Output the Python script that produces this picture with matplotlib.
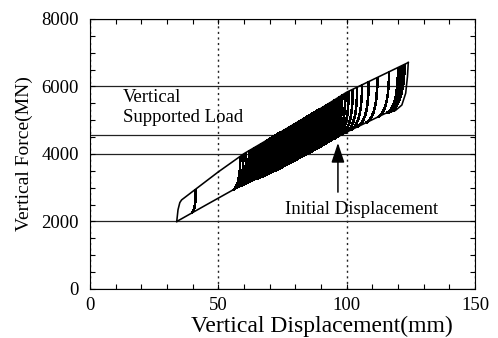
import numpy as np
import matplotlib
matplotlib.use("Agg")
import matplotlib.pyplot as plt
from matplotlib.path import Path
from matplotlib.patches import PathPatch
from matplotlib.ticker import MultipleLocator

plt.rcParams['font.family'] = ['Liberation Serif', 'DejaVu Serif']

# outer envelope of the hysteresis loop (mm, MN)
upper_x = [33.8, 34.3, 35.0, 35.7, 40.0, 50.0, 60.0, 75.0, 91.0, 100.0, 112.0, 124.0]
upper_y = [2000, 2350, 2560, 2640, 2890, 3470, 4010, 4680, 5400, 5830, 6270, 6710]
lower_x = [33.8, 45.0, 57.0, 74.0, 100.0, 115.0, 119.0, 121.5, 123.0, 123.7, 124.0]
lower_y = [2000, 2480, 2990, 3590, 4650, 5200, 5290, 5450, 5800, 6300, 6710]

# displacement where each inner reversal curve meets the upper branch
loop_left = [41.2]
loop_hatch = [58.6, 59.8, 60.9, 61.9, 62.9, 63.9, 64.8, 65.7, 66.6, 67.5, 68.3]
loop_dense = [68.9, 69.3, 69.7, 70.1, 70.5, 70.9, 71.3, 71.7, 72.1, 72.5,
              72.9, 73.3, 73.7, 74.1, 74.5, 74.9, 75.3, 75.7, 76.1, 76.5,
              76.9, 77.3, 77.7, 78.1, 78.5, 78.9, 79.3, 79.7, 80.1, 80.5,
              80.9, 81.3, 81.7, 82.1, 82.5, 82.9, 83.3, 83.7, 84.1, 84.5,
              84.9, 85.3, 85.7, 86.1, 86.5, 86.9, 87.3, 87.7, 88.1, 88.5,
              88.9, 89.3, 89.7, 90.1, 90.5, 90.9, 91.3, 91.8, 92.3, 92.9]
loop_right = [93.6, 94.5, 95.3, 96.2, 97.2, 98.3, 99.5, 100.8, 102.4,
              104.1, 106.0, 108.6, 112.0, 116.5, 120.0, 120.9, 121.7, 122.6]

supported_load = 4560
initial_disp = 96.6

fig = plt.figure(figsize=(4.98, 3.38), dpi=100)
ax = fig.add_axes([0.1807, 0.145, 0.7731, 0.7988])

ax.set_xlim(0, 150)
ax.set_ylim(0, 8000)
ax.xaxis.set_major_locator(MultipleLocator(50))
ax.xaxis.set_minor_locator(MultipleLocator(10))
ax.yaxis.set_major_locator(MultipleLocator(2000))
ax.yaxis.set_minor_locator(MultipleLocator(500))
ax.tick_params(which='both', direction='in', top=True, right=True,
               length=3.6, width=0.8, labelsize=13.5)
ax.tick_params(axis='x', pad=6)
ax.tick_params(axis='y', pad=8)
for s in ax.spines.values():
    s.set_linewidth(0.8)

ax.yaxis.grid(True, which='major', color='#222222', linewidth=0.9, linestyle='-')
ax.xaxis.grid(True, which='major', color='#222222', linewidth=1.0, linestyle=(0, (1.5, 2.5)))
ax.set_axisbelow(True)
ax.axhline(supported_load, color='#222222', linewidth=0.9, zorder=1)

lw = 1.15
ax.plot(upper_x, upper_y, color='black', linewidth=lw, zorder=3)
ax.plot(lower_x, lower_y, color='black', linewidth=lw, zorder=3)


def reversal(xt, dx, width):
    # curve leaves the lower branch tangentially and reaches the upper branch vertically
    xb = xt - dx
    yb = np.interp(xb, lower_x, lower_y)
    yc = np.interp(xt, lower_x, lower_y)
    yt = np.interp(xt, upper_x, upper_y)
    yc = min(yc, yt)
    p = Path([(xb, yb), (xt, yc), (xt, yt)], [Path.MOVETO, Path.CURVE3, Path.CURVE3])
    ax.add_patch(PathPatch(p, facecolor='none', edgecolor='black', linewidth=width,
                           antialiased=False, zorder=3))


for xt in loop_left:
    reversal(xt, 1.5, lw)
for xt in loop_hatch:
    reversal(xt, 3.0, 1.0)
for xt in loop_dense:
    reversal(xt, 3.5, 1.8)
for xt in loop_right:
    reversal(xt, 4.5, lw)

ax.text(12.9, 5660, 'Vertical', fontsize=13.5, va='center', ha='left')
ax.text(12.9, 5067, 'Supported Load', fontsize=13.5, va='center', ha='left')
ax.text(76, 2370, 'Initial Displacement', fontsize=13.5, va='center', ha='left')

ax.annotate('', xy=(initial_disp, 4330), xytext=(initial_disp, 2870),
            arrowprops=dict(arrowstyle='-|>,head_length=1.2,head_width=0.4',
                            mutation_scale=10, color='black', linewidth=1.1,
                            shrinkA=0, shrinkB=0), zorder=4)

ax.set_xlabel('Vertical Displacement(mm)', fontsize=17, va='baseline')
ax.xaxis.set_label_coords(0.601, -0.158)
ax.set_ylabel('Vertical Force(MN)', fontsize=14, labelpad=6)

fig.savefig('out.png', dpi=100)
